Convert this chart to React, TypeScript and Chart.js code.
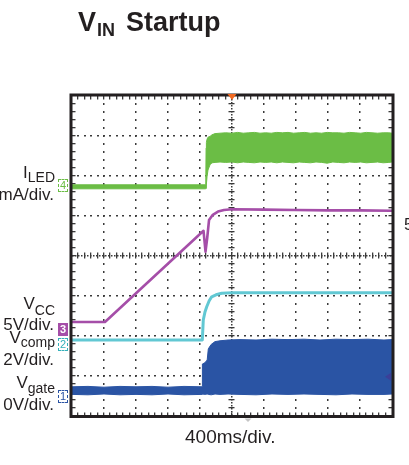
import React, { useEffect, useRef } from "react";
import { Chart, registerables } from "chart.js";

Chart.register(...registerables);

// ---- scope settings ----
const MS_PER_DIV = 400;
const X_DIVS = 10;
const Y_DIVS = 8;
const TRIGGER_LEVEL_DIV = 0.98;

// ---- CH4: I_LED (noisy band after start-up, envelopes in divisions) ----
const ILED_T = [
  0, 1672, 1676, 1680, 1688, 1700, 1725, 1750, 1788, 1850,
  1920, 2000, 2070, 2140, 2210, 2280, 2350, 2420, 2490, 2560,
  2630, 2700, 2770, 2840, 2910, 2980, 3050, 3120, 3190, 3260,
  3330, 3400, 3470, 3540, 3610, 3680, 3750, 3820, 3890, 3960,
  4000,
];
const ILED_HI = [
  5.78, 5.78, 6.7, 6.84, 6.92, 6.97, 6.99, 7.03, 7.06, 7.07,
  7.08, 7.07, 7.09, 7.07, 7.08, 7.09, 7.07, 7.08, 7.07, 7.09,
  7.08, 7.09, 7.07, 7.08, 7.09, 7.07, 7.08, 7.07, 7.09, 7.08,
  7.08, 7.07, 7.09, 7.08, 7.07, 7.09, 7.08, 7.07, 7.08, 7.08,
  7.07,
];
const ILED_LO = [
  5.68, 5.68, 5.69, 5.8, 5.98, 6.15, 6.28, 6.33, 6.34, 6.35,
  6.34, 6.35, 6.33, 6.35, 6.34, 6.33, 6.35, 6.34, 6.35, 6.33,
  6.35, 6.34, 6.33, 6.35, 6.34, 6.33, 6.35, 6.34, 6.32, 6.35,
  6.34, 6.33, 6.35, 6.34, 6.35, 6.33, 6.34, 6.35, 6.33, 6.34,
  6.35,
];

// ---- CH3: V_CC ----
const VCC_T = [0, 412, 1644, 1669, 1690, 1713, 1760, 1825, 1900, 2000, 2400, 2800, 3200, 3600, 4000];
const VCC_V = [2.35, 2.35, 4.63, 4.11, 4.45, 4.9, 5.03, 5.11, 5.15, 5.17, 5.16, 5.15, 5.14, 5.14, 5.13];

// ---- CH2: V_comp ----
const VCOMP_T = [0, 1629, 1641, 1662, 1684, 1715, 1746, 1800, 1871, 2000, 4000];
const VCOMP_V = [1.9, 1.9, 2.4, 2.6, 2.73, 2.88, 2.98, 3.03, 3.07, 3.08, 3.08];

// ---- CH1: V_gate (switching band, envelopes in divisions) ----
const VGATE_T = [
  0, 200, 400, 600, 800, 1000, 1200, 1400, 1626, 1630,
  1660, 1690, 1704, 1740, 1788, 1850, 1950, 2100, 2300, 2500,
  2700, 2900, 3100, 3300, 3500, 3700, 3900, 4000,
];
const VGATE_HI = [
  0.73, 0.74, 0.72, 0.74, 0.73, 0.74, 0.72, 0.74, 0.73, 1.3,
  1.33, 1.4, 1.68, 1.79, 1.86, 1.88, 1.9, 1.91, 1.9, 1.92,
  1.91, 1.92, 1.9, 1.92, 1.91, 1.92, 1.9, 1.91,
];
const VGATE_LO = [
  0.54, 0.53, 0.55, 0.53, 0.54, 0.53, 0.55, 0.53, 0.54, 0.55,
  0.54, 0.55, 0.54, 0.53, 0.55, 0.54, 0.55, 0.54, 0.53, 0.55,
  0.54, 0.55, 0.54, 0.53, 0.55, 0.54, 0.54, 0.55,
];

const GREEN = "#6bbd45";
const PURPLE = "#a54ea8";
const CYAN = "#62c8d3";
const BLUE = "#2a54a4";
const INK = "#231f20";
const FONT = '"Liberation Sans", Arial, Helvetica, sans-serif';

const W = 409;
const H = 465;

const pts = (t: number[], v: number[]) => t.map((x, i) => ({ x, y: v[i] }));

const scopePlugin = {
  id: "scopeGraticule",
  beforeDatasetsDraw(chart: any) {
    const { ctx, chartArea: a, scales } = chart;
    const px = (d: number) => scales.x.getPixelForValue(d * MS_PER_DIV);
    const py = (d: number) => scales.y.getPixelForValue(d);
    ctx.save();
    ctx.fillStyle = "#3a3a3a";
    // dotted division lines
    for (let i = 1; i < X_DIVS; i++) {
      if (i === X_DIVS / 2) continue;
      const gx = Math.round(px(i));
      for (let m = 1; m < Y_DIVS * 5; m++) {
        ctx.fillRect(gx - 1, Math.round(py(m / 5)) - 1, 1.5, 2);
      }
    }
    for (let j = 1; j < Y_DIVS; j++) {
      if (j === Y_DIVS / 2) continue;
      const gy = Math.round(py(j));
      for (let m = 1; m < X_DIVS * 5; m++) {
        ctx.fillRect(Math.round(px(m / 5)) - 1, gy - 1, 2, 1.5);
      }
    }
    // centre axes: dashed with minor cross ticks
    const cx = Math.round(px(X_DIVS / 2));
    const cy = Math.round(py(Y_DIVS / 2));
    for (let t = a.top; t < a.bottom; t += 3) ctx.fillRect(cx - 1, t, 1.5, 1.5);
    for (let t = a.left; t < a.right; t += 3) ctx.fillRect(t, cy - 1, 1.5, 1.5);
    for (let m = 1; m < Y_DIVS * 5; m++) {
      ctx.fillRect(cx - 3.5, Math.round(py(m / 5)) - 1, 6, 1.3);
    }
    for (let m = 1; m < X_DIVS * 5; m++) {
      ctx.fillRect(Math.round(px(m / 5)) - 1, cy - 3.5, 1.3, 6);
    }
    // minor ticks along the border
    for (let m = 1; m < X_DIVS * 5; m++) {
      const gx = Math.round(px(m / 5)) - 1;
      ctx.fillRect(gx, a.top, 1.3, 3.5);
      ctx.fillRect(gx, a.bottom - 3.5, 1.3, 3.5);
    }
    for (let m = 1; m < Y_DIVS * 5; m++) {
      const gy = Math.round(py(m / 5)) - 1;
      ctx.fillRect(a.left, gy, 3.5, 1.3);
      ctx.fillRect(a.right - 3.5, gy, 3.5, 1.3);
    }
    ctx.restore();
  },
  afterDraw(chart: any) {
    const { ctx, chartArea: a, scales } = chart;
    const px = (d: number) => scales.x.getPixelForValue(d * MS_PER_DIV);
    const py = (d: number) => scales.y.getPixelForValue(d);
    ctx.save();
    // frame
    ctx.strokeStyle = INK;
    ctx.lineWidth = 3;
    ctx.strokeRect(a.left - 1, a.top - 1, a.width + 2, a.height + 1.5);
    // trigger position (top centre)
    const cx = px(X_DIVS / 2);
    ctx.fillStyle = "#f26a21";
    ctx.beginPath();
    ctx.moveTo(cx - 4.5, a.top - 2);
    ctx.lineTo(cx + 4.5, a.top - 2);
    ctx.lineTo(cx, a.top + 4);
    ctx.closePath();
    ctx.fill();
    // trigger level (right edge)
    const ty = py(TRIGGER_LEVEL_DIV);
    ctx.fillStyle = "#3c3f98";
    ctx.beginPath();
    ctx.moveTo(a.right - 1, ty - 4);
    ctx.lineTo(a.right - 1, ty + 4);
    ctx.lineTo(a.right - 7, ty);
    ctx.closePath();
    ctx.fill();
    // small reference mark under the frame
    const gx = px(5.5);
    ctx.fillStyle = "#c4c4c4";
    ctx.beginPath();
    ctx.moveTo(gx - 3.5, a.bottom + 2.5);
    ctx.lineTo(gx + 3.5, a.bottom + 2.5);
    ctx.lineTo(gx, a.bottom + 6);
    ctx.closePath();
    ctx.fill();
    ctx.restore();
  },
};

function Txt(props: {
  x: number;
  base: number;
  size: number;
  align?: "left" | "right";
  bold?: boolean;
  children: React.ReactNode;
}) {
  const { x, base, size, align = "left", bold = false, children } = props;
  const style: React.CSSProperties = {
    position: "absolute",
    top: base - 0.8465 * size,
    fontSize: size,
    lineHeight: `${size}px`,
    fontFamily: FONT,
    fontWeight: bold ? "bold" : "normal",
    color: INK,
    whiteSpace: "nowrap",
  };
  if (align === "right") style.right = W - x;
  else style.left = x;
  return <div style={style}>{children}</div>;
}

function Sub(props: { drop: number; size?: number; children: React.ReactNode }) {
  return (
    <span style={{ position: "relative", top: props.drop, fontSize: props.size ?? 14 }}>
      {props.children}
    </span>
  );
}

function ChannelTag(props: { top: number; color: string; filled?: boolean; label: string }) {
  const { top, color, filled = false, label } = props;
  return (
    <div
      style={{
        position: "absolute",
        left: 58,
        top,
        width: 8,
        height: 11,
        border: `1px dashed ${color}`,
        background: filled ? color : "transparent",
        color: filled ? "#fff" : color,
        fontFamily: FONT,
        fontSize: 11,
        lineHeight: "11px",
        textAlign: "center",
        fontWeight: filled ? "bold" : "normal",
      }}
    >
      {label}
    </div>
  );
}

export default function App() {
  const canvasRef = useRef<HTMLCanvasElement | null>(null);

  useEffect(() => {
    if (!canvasRef.current) return;
    const band = (color: string, hi: { x: number; y: number }[], lo: { x: number; y: number }[]) => [
      {
        data: hi,
        borderColor: color,
        backgroundColor: color,
        borderWidth: 1,
        pointRadius: 0,
        fill: "+1",
      },
      {
        data: lo,
        borderColor: color,
        backgroundColor: color,
        borderWidth: 1,
        pointRadius: 0,
        fill: false,
      },
    ];
    const chart = new Chart(canvasRef.current, {
      type: "line",
      data: {
        datasets: [
          ...band(GREEN, pts(ILED_T, ILED_HI), pts(ILED_T, ILED_LO)),
          {
            data: pts(VCC_T, VCC_V),
            borderColor: PURPLE,
            borderWidth: 2.6,
            pointRadius: 0,
            fill: false,
          },
          {
            data: pts(VCOMP_T, VCOMP_V),
            borderColor: CYAN,
            borderWidth: 3,
            pointRadius: 0,
            fill: false,
          },
          ...band(BLUE, pts(VGATE_T, VGATE_HI), pts(VGATE_T, VGATE_LO)),
        ] as any,
      },
      options: {
        animation: false,
        responsive: false,
        devicePixelRatio: 1,
        layout: { padding: { left: 72, top: 96, right: 17, bottom: 49 } },
        elements: { line: { tension: 0, borderJoinStyle: "round" } },
        scales: {
          x: { type: "linear", min: 0, max: MS_PER_DIV * X_DIVS, display: false },
          y: { type: "linear", min: 0, max: Y_DIVS, display: false },
        },
        plugins: {
          legend: { display: false },
          tooltip: { enabled: false },
          title: { display: false },
        },
      },
      plugins: [scopePlugin],
    });
    return () => chart.destroy();
  }, []);

  return (
    <div
      style={{
        position: "absolute",
        left: 0,
        top: 0,
        width: W,
        height: H,
        overflow: "hidden",
        background: "#fff",
      }}
    >
      <canvas ref={canvasRef} width={W} height={H} style={{ position: "absolute", left: 0, top: 0 }} />

      {/* title */}
      <Txt x={78} base={32} size={27} bold>
        V
      </Txt>
      <Txt x={97} base={36} size={18} bold>
        IN
      </Txt>
      <Txt x={126} base={32} size={27} bold>
        Startup
      </Txt>

      {/* channel labels */}
      <Txt x={55} base={178} size={17} align="right">
        I<Sub drop={4}>LED</Sub>
      </Txt>
      <Txt x={54} base={200} size={17} align="right">
        mA/div.
      </Txt>
      <Txt x={55} base={309} size={17} align="right">
        V<Sub drop={6}>CC</Sub>
      </Txt>
      <Txt x={54} base={330} size={17} align="right">
        5V/div.
      </Txt>
      <Txt x={55} base={343} size={17} align="right">
        V<Sub drop={4}>comp</Sub>
      </Txt>
      <Txt x={54} base={365} size={17} align="right">
        2V/div.
      </Txt>
      <Txt x={55} base={388} size={17} align="right">
        V<Sub drop={5}>gate</Sub>
      </Txt>
      <Txt x={54} base={410} size={17} align="right">
        0V/div.
      </Txt>
      <Txt x={404} base={230} size={17}>
        5
      </Txt>

      {/* channel reference tags */}
      <ChannelTag top={179} color={GREEN} label="4" />
      <ChannelTag top={323} color={PURPLE} filled label="3" />
      <ChannelTag top={338} color="#35b0ba" label="2" />
      <ChannelTag top={390} color={BLUE} label="1" />

      {/* time base */}
      <Txt x={185} base={443} size={19}>
        400ms/div.
      </Txt>
    </div>
  );
}
